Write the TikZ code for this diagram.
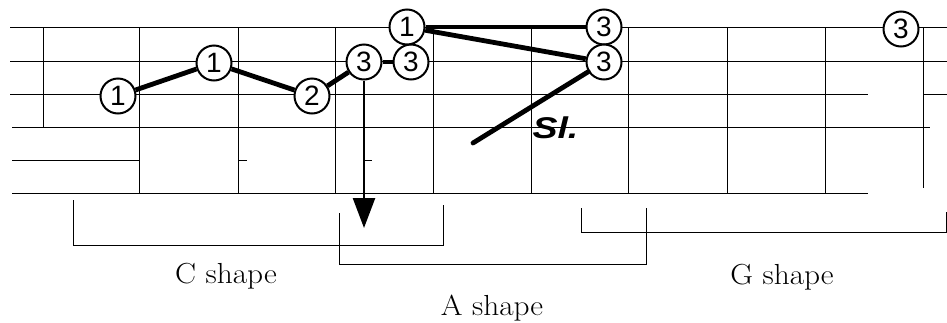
\documentclass[tikz,border=0pt]{standalone}
\usepackage{fontspec}
\newfontfamily\digfont{Liberation Sans}
\usetikzlibrary{arrows.meta}
\begin{document}
\begin{tikzpicture}[x=1pt,y=-1pt,
  gridline/.style={line width=1pt},
  finger/.style={circle,draw,line width=2pt,minimum size=35pt,inner sep=0pt,fill=white,
    font=\digfont\fontsize{28}{28}\selectfont},
  link/.style={line width=4.8pt},
  bracket/.style={line width=1pt},
  lbl/.style={anchor=base,font=\fontsize{29}{32}\selectfont}]
\useasboundingbox (0,0) rectangle (947,322);
% strings
\draw[gridline] (10,27) -- (947,27);
\draw[gridline] (10,61) -- (947,61);
\draw[gridline] (10,94) -- (868,94);
\draw[gridline] (923,94) -- (947,94);
\draw[gridline] (12,127) -- (930,127);
\draw[gridline] (12,160) -- (139,160);
\draw[gridline] (12,193) -- (868,193);
% frets
\draw[gridline] (43,27) -- (43,127);
\foreach \x in {139,238,335,433,531,628,727,825}
  \draw[gridline] (\x,27) -- (\x,193);
\draw[gridline] (923,27) -- (923,188);
\draw[gridline] (238,160) -- (247,160);
\draw[gridline] (364,160) -- (372,160);
% finger circles
\node[finger] (a1) at (118,96) {1};
\node[finger] (a2) at (214,63) {1};
\node[finger] (a3) at (312,96) {2};
\node[finger] (a4) at (364,62) {3};
\node[finger] (a5) at (411,62) {3};
\node[finger] (b1) at (407,27) {1};
\node[finger] (b2) at (604,27) {3};
\node[finger] (b3) at (604,62) {3};
\node[finger] (c1) at (901,29) {3};
\coordinate (slend) at (473,143);
\coordinate (tip) at (364,228);
% links
\draw[link] (a1) -- (a2);
\draw[link] (a2) -- (a3);
\draw[link] (a3) -- (a4);
\draw[link] (a4) -- (a5);
\draw[link] (b1) -- (b2);
\draw[link] (b1) -- (b3);
\draw[link,line cap=round] (b3) -- (slend);
\draw[line width=2.5pt,-{Triangle[length=30pt,width=22pt]}] (a4) -- (tip);
\node[anchor=base west,font=\digfont\bfseries\itshape\fontsize{30}{30}\selectfont] (sl) at (529,138) {\scalebox{1.25}[1]{Sl.}};
% brackets
\draw[bracket] (73,200) -- (73,245) -- (443,245) -- (443,205);
\draw[bracket] (339,213) -- (339,264) -- (646,264) -- (646,208);
\draw[bracket] (581,208) -- (581,232) -- (946,232) -- (946,212);
\node[lbl] (cs) at (226,283) {\scalebox{1.08}[1]{C shape}};
\node[lbl] (as) at (492,315) {\scalebox{1.08}[1]{A shape}};
\node[lbl] (gs) at (782,284) {\scalebox{1.08}[1]{G shape}};
\end{tikzpicture}
\end{document}
